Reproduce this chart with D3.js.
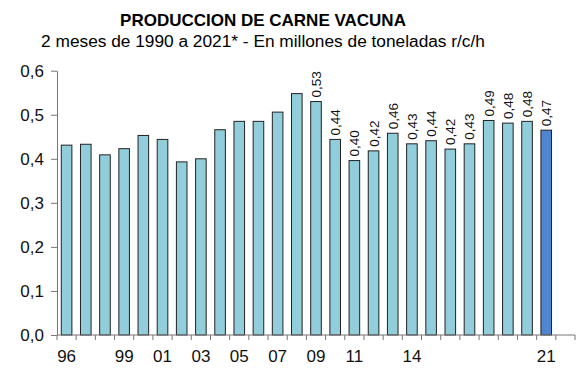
<!DOCTYPE html>
<html>
<head>
<meta charset="utf-8">
<script src="https://cdn.jsdelivr.net/npm/d3@7"></script>
<style>
  body { margin: 0; background: #fff; }
  svg { display: block; font-family: "Liberation Sans", Arial, sans-serif; }
</style>
</head>
<body>
<svg id="chart" width="585" height="374"></svg>
<script>
// years 1996..2021, plus one empty slot at the end of the axis
const years = d3.range(1996, 2023);
const values = [0.431, 0.433, 0.409, 0.423, 0.453, 0.444, 0.393, 0.400, 0.466, 0.485,
    0.485, 0.506, 0.548, 0.530, 0.444, 0.396, 0.418, 0.458, 0.434, 0.441,
    0.422, 0.434, 0.487, 0.481, 0.485, 0.465];
const labels = [null, null, null, null, null, null, null, null, null, null,
    null, null, null, "0,53", "0,44", "0,40", "0,42", "0,46", "0,43", "0,44",
    "0,42", "0,43", "0,49", "0,48", "0,48", "0,47"];
const shownYears = [1996, 1999, 2001, 2003, 2005, 2007, 2009, 2011, 2014, 2021];
const yTicks = [0, 0.1, 0.2, 0.3, 0.4, 0.5, 0.6];

const data = values.map((v, i) => ({ year: years[i], value: v, label: labels[i] }));

const svg = d3.select("#chart");
const fmt = d => d.toFixed(1).replace(".", ",");

const x = d3.scaleBand().domain(years).range([57, 575]).padding(0);
const y = d3.scaleLinear().domain([0, 0.6]).range([335, 70.7]);
const barW = 10.6;

// title
svg.append("text")
    .attr("x", 263).attr("y", 26)
    .attr("text-anchor", "middle")
    .attr("font-weight", "bold")
    .attr("font-size", "17px")
    .text("PRODUCCION DE CARNE VACUNA");
svg.append("text")
    .attr("x", 263).attr("y", 47)
    .attr("text-anchor", "middle")
    .attr("font-size", "17.3px")
    .text("2 meses de 1990 a 2021* - En millones de toneladas r/c/h");

// bars
svg.append("g")
    .selectAll("rect")
    .data(data).enter()
    .append("rect")
    .attr("x", d => x(d.year) + x.bandwidth() / 2 - barW / 2)
    .attr("y", d => y(d.value))
    .attr("width", barW)
    .attr("height", d => y(0) - y(d.value))
    .attr("fill", d => d.year === 2021 ? "#4f86cf" : "#92cddc")
    .attr("stroke", "#222")
    .attr("stroke-width", 1);

// value labels
svg.append("g")
    .selectAll("text")
    .data(data.filter(d => d.label)).enter()
    .append("text")
    .attr("transform", d => "translate(" + (x(d.year) + x.bandwidth() / 2 + 5) + "," + (y(d.value) - 4) + ") rotate(-90)")
    .attr("font-size", "13.5px")
    .attr("fill", "#111")
    .text(d => d.label);

// y axis
const axisY = d3.axisLeft(y).tickValues(yTicks).tickFormat(fmt).tickSize(6).tickSizeOuter(0);
const gy = svg.append("g").attr("transform", "translate(57,0)").call(axisY);
gy.select(".domain").attr("stroke", "#777");
gy.selectAll(".tick line").attr("stroke", "#777");
gy.selectAll(".tick text").attr("font-size", "17px").attr("fill", "#111")
    .attr("font-family", "Liberation Sans, Arial, sans-serif").attr("x", -13);

// x axis: ticks at band boundaries
const gx = svg.append("g").attr("transform", "translate(0,335)");
gx.append("line")
    .attr("x1", 57).attr("x2", 575)
    .attr("stroke", "#777");
gx.selectAll(".bt")
    .data(years.concat([2023])).enter()
    .append("line")
    .attr("x1", d => d === 2023 ? x(2022) + x.bandwidth() : x(d))
    .attr("x2", d => d === 2023 ? x(2022) + x.bandwidth() : x(d))
    .attr("y1", 0).attr("y2", 5)
    .attr("stroke", "#777");
gx.selectAll(".xl")
    .data(shownYears).enter()
    .append("text")
    .attr("x", d => x(d) + x.bandwidth() / 2)
    .attr("y", 27)
    .attr("text-anchor", "middle")
    .attr("font-size", "17px")
    .attr("fill", "#111")
    .text(d => String(d).slice(2));
</script>
</body>
</html>
